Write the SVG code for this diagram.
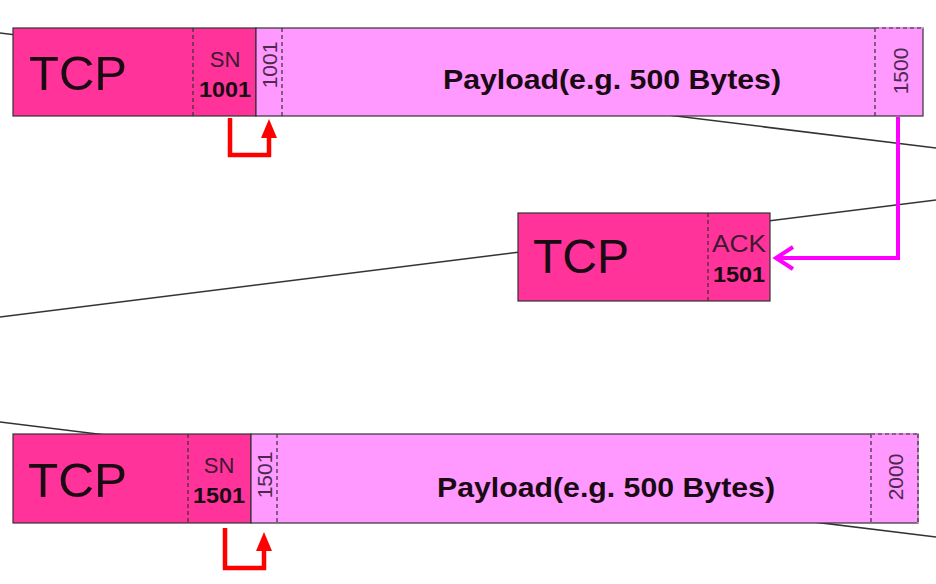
<svg xmlns="http://www.w3.org/2000/svg" width="936" height="584" viewBox="0 0 936 584">
<defs>
<style>
.dark{fill:#ff3399;stroke:#333;stroke-width:1.2}
.light{fill:#ff99ff;stroke:#333;stroke-width:1.2}
.dash{stroke:#333;stroke-width:1.2;stroke-dasharray:4,3;fill:none}
.tcp{font-family:"Liberation Sans",Arial,sans-serif;font-size:48px;fill:#1a0a14}
.lbl{font-family:"Liberation Sans",Arial,sans-serif;font-size:22px;fill:#3d1a33;text-anchor:middle}
.num{font-family:"Liberation Sans",Arial,sans-serif;font-size:22px;font-weight:bold;fill:#1a0a14;text-anchor:middle}
.rot{font-family:"Liberation Sans",Arial,sans-serif;font-size:21px;fill:#4d2a4d;text-anchor:middle}
.pay{font-family:"Liberation Sans",Arial,sans-serif;font-size:28px;font-weight:bold;fill:#1a0a14;text-anchor:middle}
.line{stroke:#333;stroke-width:1.5;fill:none}
.red{stroke:#ff0000;stroke-width:4.5;fill:none}
.mag{stroke:#ff00ff;stroke-width:4;fill:none}
</style>
</defs>
<g id="connectors">
<line class="line" x1="0" y1="33" x2="936" y2="148"/>
<line class="line" x1="0" y1="317" x2="936" y2="200"/>
<line class="line" x1="0" y1="422" x2="936" y2="537"/>
</g>
<g id="packet1">
<rect class="dark" x="13" y="28" width="243" height="88"/>
<rect class="light" x="256" y="28" width="667" height="88"/>
<line class="dash" x1="193" y1="28" x2="193" y2="116"/>
<line class="dash" x1="282" y1="28" x2="282" y2="116"/>
<line class="dash" x1="875" y1="28" x2="875" y2="116"/>
<line x1="875" y1="28" x2="923" y2="28" stroke="#ff99ff" stroke-width="1.4"/>
<line class="dash" x1="875" y1="28" x2="923" y2="28"/>
<text class="tcp" x="29" y="90" textLength="98" lengthAdjust="spacingAndGlyphs">TCP</text>
<text class="lbl" x="225" y="67">SN</text>
<text class="num" x="225" y="97" textLength="52" lengthAdjust="spacingAndGlyphs">1001</text>
<text class="rot" transform="translate(277,65) rotate(-90)">1001</text>
<text class="pay" x="612" y="89" textLength="338" lengthAdjust="spacingAndGlyphs">Payload(e.g. 500 Bytes)</text>
<text class="rot" transform="translate(908,71) rotate(-90)">1500</text>
</g>
<g id="packet2">
<rect class="dark" x="518" y="213" width="252" height="88"/>
<line class="dash" x1="708" y1="213" x2="708" y2="301"/>
<text class="tcp" x="533" y="273" textLength="96" lengthAdjust="spacingAndGlyphs">TCP</text>
<text class="lbl" x="739" y="252" textLength="54" lengthAdjust="spacingAndGlyphs" style="font-size:24px">ACK</text>
<text class="num" x="739" y="282" textLength="52" lengthAdjust="spacingAndGlyphs">1501</text>
</g>
<g id="packet3">
<rect class="dark" x="13" y="434" width="238" height="89"/>
<rect class="light" x="251" y="434" width="667" height="89"/>
<line class="dash" x1="188" y1="434" x2="188" y2="523"/>
<line class="dash" x1="277" y1="434" x2="277" y2="523"/>
<line class="dash" x1="871" y1="434" x2="871" y2="523"/>
<line x1="871" y1="434" x2="918" y2="434" stroke="#ff99ff" stroke-width="1.4"/>
<line x1="918" y1="434" x2="918" y2="523" stroke="#ff99ff" stroke-width="1.4"/>
<line class="dash" x1="871" y1="434" x2="918" y2="434"/>
<line class="dash" x1="918" y1="434" x2="918" y2="523"/>
<text class="tcp" x="28" y="497" textLength="99" lengthAdjust="spacingAndGlyphs">TCP</text>
<text class="lbl" x="219" y="473">SN</text>
<text class="num" x="219" y="503" textLength="52" lengthAdjust="spacingAndGlyphs">1501</text>
<text class="rot" transform="translate(272,475) rotate(-90)">1501</text>
<text class="pay" x="606" y="497" textLength="338" lengthAdjust="spacingAndGlyphs">Payload(e.g. 500 Bytes)</text>
<text class="rot" transform="translate(903,477) rotate(-90)">2000</text>
</g>
<g id="arrows">
<polyline class="red" points="230,118 230,155 269,155 269,134"/>
<path d="M261,138 L269,119 L277,138 z" fill="#ff0000"/>
<polyline class="red" points="225,528 225,568 264,568 264,548"/>
<path d="M256,551 L264,532 L272,551 z" fill="#ff0000"/>
<polyline class="mag" points="898,117 898,258 776,258"/>
<path d="M793,247 L776,258 L793,269" fill="none" stroke="#ff00ff" stroke-width="4"/>
</g>
</svg>
